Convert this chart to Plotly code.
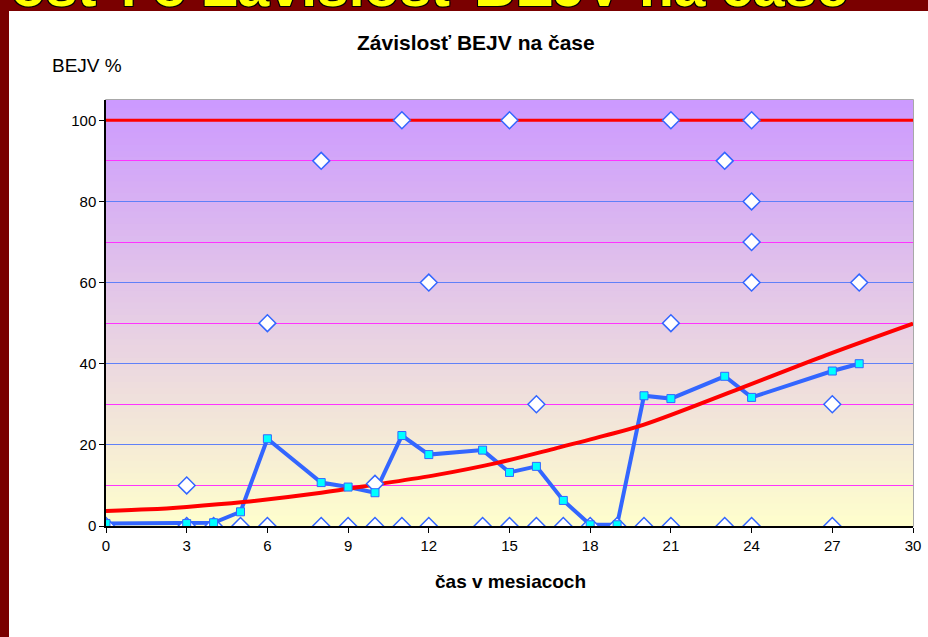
import plotly.graph_objects as go

# ---------------- data ----------------
avg_x = [0, 3, 4, 5, 6, 8, 9, 10, 11, 12, 14, 15, 16, 17, 18, 19, 20, 21, 23, 24, 27, 28]
avg_y = [0.6, 0.6, 0.8, 3.5, 21.5, 10.7, 9.6, 8.2, 22.3, 17.6, 18.7, 13.2, 14.7, 6.3, 0.3, 0.3, 32.1, 31.4, 36.9, 31.7, 38.2, 40.0]

pts_x = [0, 3, 4, 5, 6, 8, 9, 10, 11, 12, 14, 15, 16, 17, 18, 19, 20, 21, 23, 24, 27,
         3, 6, 8, 10, 11, 12, 15, 16, 21, 21, 23, 24, 24, 24, 24, 27, 28]
pts_y = [0, 0, 0, 0, 0, 0, 0, 0, 0, 0, 0, 0, 0, 0, 0, 0, 0, 0, 0, 0, 0,
         10, 50, 90, 10.4, 100, 60, 100, 30, 100, 50, 90, 100, 80, 70, 60, 30, 60]

trend_x = [0, 1.6, 3, 5.1, 8, 10, 12.3, 14.5, 16.75, 18.5, 20, 23.6, 26.8, 30]
trend_y = [3.7, 4.1, 4.7, 5.9, 8.2, 10.2, 12.6, 15.5, 19.2, 22.2, 25.0, 34.0, 42.2, 49.9]

limit_x = [0, 30]
limit_y = [100, 100]

x_ticks = [0, 3, 6, 9, 12, 15, 18, 21, 24, 27, 30]
y_ticks = [0, 20, 40, 60, 80, 100]

title_text = "Závislosť BEJV na čase"
x_title = "čas v mesiacoch"
y_title = "BEJV %"
banner_text = "osť l o Závislosť BEJV na čase"

# ---------------- layout geometry ----------------
W, H = 928, 637
L, R, T, B = 106, 15, 100, 111
PW, PH = W - L - R, H - T - B


def px(xp):
    return (xp - L) / PW


def py(yp):
    return (H - B - yp) / PH


FONT = "Liberation Sans, Arial, sans-serif"
BLUE = "#3366FF"

fig = go.Figure()

fig.add_trace(go.Scatter(x=avg_x, y=avg_y, mode="lines",
                         line=dict(color=BLUE, width=4), hoverinfo="skip"))
fig.add_trace(go.Scatter(x=trend_x, y=trend_y, mode="lines",
                         line=dict(color="#FF0000", width=4, shape="spline"), hoverinfo="skip"))
fig.add_trace(go.Scatter(x=limit_x, y=limit_y, mode="lines",
                         line=dict(color="#FF0000", width=3), hoverinfo="skip"))
fig.add_trace(go.Scatter(x=pts_x, y=pts_y, mode="markers",
                         marker=dict(symbol="diamond", size=13, color="white",
                                     line=dict(color=BLUE, width=1.5))))
fig.add_trace(go.Scatter(x=avg_x, y=avg_y, mode="markers",
                         marker=dict(symbol="square", size=8, color="#00FFFF",
                                     line=dict(color=BLUE, width=1))))

# gradient background (purple top -> light yellow bottom)
shapes = []
ymax = 105
n = 70
top = (204, 153, 255)
bot = (255, 255, 204)
for i in range(n):
    y0 = ymax * i / n
    y1 = ymax * (i + 1) / n
    t = (i + 0.5) / n
    c = tuple(round(bot[k] + (top[k] - bot[k]) * t) for k in range(3))
    shapes.append(dict(type="rect", xref="x", yref="y", x0=0, x1=30,
                       y0=max(0, y0 - 0.5), y1=y1,
                       fillcolor="rgb(%d,%d,%d)" % c, line=dict(width=0), layer="below"))
# grey plot border
shapes.append(dict(type="rect", xref="paper", yref="paper", x0=0, x1=1, y0=0, y1=1,
                   line=dict(color="#8C8C8C", width=1.5), layer="below"))
# dark red frame (left strip + top banner)
DARK = "#7A0000"
shapes.append(dict(type="rect", xref="paper", yref="paper", x0=px(0), x1=px(9),
                   y0=py(H), y1=py(0), fillcolor=DARK, line=dict(width=0), layer="above"))
shapes.append(dict(type="rect", xref="paper", yref="paper", x0=px(0), x1=px(W),
                   y0=py(11), y1=py(0), fillcolor=DARK, line=dict(width=0), layer="above"))

annotations = [
    dict(text=banner_text, xref="paper", yref="paper", x=px(9), y=py(20),
         xanchor="left", yanchor="bottom", showarrow=False,
         font=dict(family=FONT, size=57, color="#FFFF00", weight="bold",
                   shadow="1px 1px 0 #000, -1px -1px 0 #000, 1px -1px 0 #000, -1px 1px 0 #000")),
    dict(text="<b>%s</b>" % title_text, xref="paper", yref="paper", x=px(476), y=py(42),
         xanchor="center", yanchor="middle", showarrow=False,
         font=dict(family=FONT, size=21, color="black")),
    dict(text="<b>%s</b>" % x_title, xref="paper", yref="paper", x=px(510), y=py(581),
         xanchor="center", yanchor="middle", showarrow=False,
         font=dict(family=FONT, size=19, color="black")),
    dict(text=y_title, xref="paper", yref="paper", x=px(50), y=py(65),
         xanchor="left", yanchor="middle", showarrow=False,
         font=dict(family=FONT, size=19, color="black")),
]

fig.update_layout(
    width=W, height=H, autosize=False,
    margin=dict(l=L, r=R, t=T, b=B, pad=0, autoexpand=False),
    paper_bgcolor="white", plot_bgcolor="#FFFFCC",
    showlegend=False,
    shapes=shapes, annotations=annotations,
    font=dict(family=FONT, size=15, color="black"),
)
fig.update_xaxes(range=[0, 30], tickvals=x_ticks, ticktext=[str(v) for v in x_ticks],
                 showgrid=False, zeroline=False, showline=True, linecolor="black", linewidth=1.5,
                 ticks="outside", ticklen=5, tickcolor="black", tickfont=dict(size=15),
                 automargin=False)
fig.update_yaxes(range=[0, ymax], tickvals=y_ticks, ticktext=[str(v) for v in y_ticks],
                 showgrid=True, gridcolor="#6080F8", gridwidth=1.2, zeroline=False,
                 showline=True, linecolor="black", linewidth=1.5,
                 ticks="outside", ticklen=5, tickcolor="black", tickfont=dict(size=15),
                 automargin=False,
                 minor=dict(tickvals=[10, 30, 50, 70, 90], showgrid=True,
                            gridcolor="#FF33FF", gridwidth=1.2, ticks=""))

fig.write_html("out.html", config={"displayModeBar": False, "responsive": False},
               post_script="document.body.style.margin='0';document.body.style.overflow='hidden';")
